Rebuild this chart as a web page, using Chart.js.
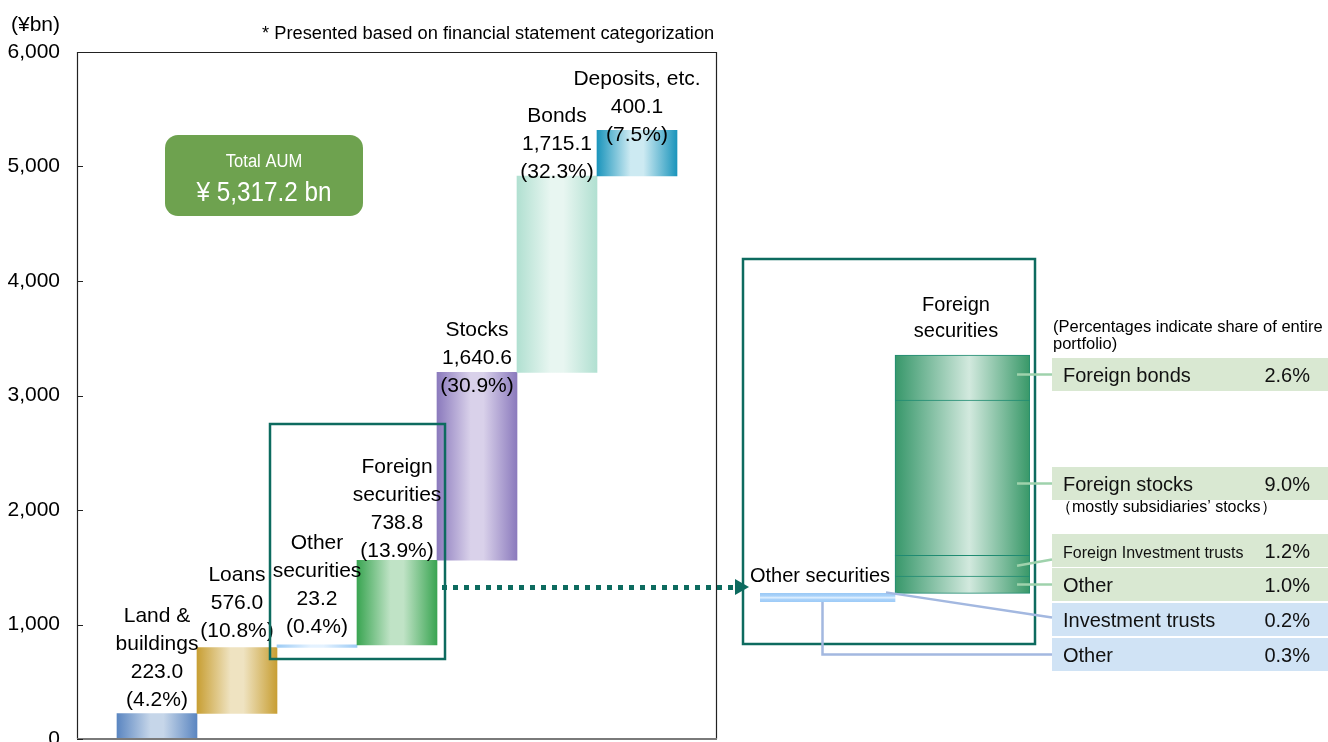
<!DOCTYPE html>
<html>
<head>
<meta charset="utf-8">
<script src="https://cdn.jsdelivr.net/npm/chart.js@4.4.1/dist/chart.umd.min.js"></script>
<style>
  html, body { margin: 0; padding: 0; background: #fff; }
  #wrap { position: relative; width: 1328px; height: 742px; }
  #wrap canvas { position: absolute; left: 0; top: 0; }
  #breakdown { pointer-events: none; }
</style>
</head>
<body>
<div id="wrap">
  <canvas id="aum" width="1328" height="742"></canvas>
  <canvas id="breakdown" width="1328" height="742"></canvas>
</div>
<script>
// asset classes, amount (¥bn) and share of portfolio (%)
var categories = ['Land &\nbuildings', 'Loans', 'Other\nsecurities', 'Foreign\nsecurities', 'Stocks', 'Bonds', 'Deposits, etc.'];
var amounts = [223.0, 576.0, 23.2, 738.8, 1640.6, 1715.1, 400.1];
var shares = [4.2, 10.8, 0.4, 13.9, 30.9, 32.3, 7.5];
var totalAUM = 5317.2;
var yTicks = [0, 1000, 2000, 3000, 4000, 5000, 6000];

// foreign securities split, bottom to top (% of whole portfolio)
var foreignParts = ['Other', 'Foreign Investment trusts', 'Foreign stocks', 'Foreign bonds'];
var foreignShares = [1.0, 1.2, 9.0, 2.6];
// other securities split
var otherParts = ['Investment trusts', 'Other'];
var otherShares = [0.2, 0.3];

var FONT = "'Liberation Sans', Arial, sans-serif";
var TEAL = '#0d6b5f';

// bar colours: edge / centre of the horizontal sheen
var edgeCols = ['#5b86c1', '#c89f34', '#9ccbf5', '#3aa552', '#8b7abd', '#b1e0d1', '#1b95bc'];
var midCols  = ['#c6d6e9', '#efe3c1', '#e4f2ff', '#c0e3c6', '#d9d1ea', '#e8f6f1', '#cdeaf2'];

function fmt(v) {
  return v.toLocaleString('en-US', { minimumFractionDigits: 1, maximumFractionDigits: 1 });
}

function sheen(ctx, x0, x1, edge, mid) {
  var g = ctx.createLinearGradient(x0, 0, x1, 0);
  g.addColorStop(0, edge);
  g.addColorStop(0.42, mid);
  g.addColorStop(0.58, mid);
  g.addColorStop(1, edge);
  return g;
}

// waterfall: every bar starts where the previous one ended
var ranges = [];
var running = 0;
amounts.forEach(function (a) {
  ranges.push([running, running + a]);
  running += a;
});

var mainLabels = [''].concat(categories.map(function (c) { return c.replace('\n', ' '); }), ['']);
var mainData = [null].concat(ranges, [null]);

var mainDecor = {
  id: 'mainDecor',
  afterDatasetsDraw: function (chart, args, opts) {
    var ctx = chart.ctx;
    var meta = chart.getDatasetMeta(0);
    ctx.save();
    ctx.font = '21px ' + FONT;
    ctx.fillStyle = '#000';
    ctx.textAlign = 'center';
    ctx.textBaseline = 'alphabetic';
    categories.forEach(function (name, i) {
      var el = meta.data[i + 1];
      var lines = name.split('\n').concat([fmt(amounts[i]), '(' + shares[i].toFixed(1) + '%)']);
      var base = el.y - opts.lift[i];
      for (var k = lines.length - 1; k >= 0; k--) {
        ctx.fillText(lines[k], el.x, base - (lines.length - 1 - k) * 28);
      }
    });
    ctx.restore();
  },
  afterDraw: function (chart) {
    var ctx = chart.ctx, a = chart.chartArea, ys = chart.scales.y;
    ctx.save();

    // plot frame
    ctx.strokeStyle = '#222';
    ctx.lineWidth = 1.2;
    ctx.beginPath();
    ctx.moveTo(a.left + 0.5, a.bottom);
    ctx.lineTo(a.left + 0.5, a.top + 0.5);
    ctx.lineTo(a.right - 0.5, a.top + 0.5);
    ctx.lineTo(a.right - 0.5, a.bottom);
    ctx.stroke();
    ctx.strokeStyle = '#7a7a7a';
    ctx.lineWidth = 2;
    ctx.beginPath();
    ctx.moveTo(a.left, a.bottom);
    ctx.lineTo(a.right, a.bottom);
    ctx.stroke();

    // short inward tick marks
    ctx.strokeStyle = '#222';
    ctx.lineWidth = 1;
    yTicks.forEach(function (v) {
      var y = Math.round(ys.getPixelForValue(v)) + 0.5;
      ctx.beginPath();
      ctx.moveTo(a.left, y);
      ctx.lineTo(a.left + 6, y);
      ctx.stroke();
    });

    // unit and note
    ctx.fillStyle = '#000';
    ctx.font = '21px ' + FONT;
    ctx.textAlign = 'left';
    ctx.fillText('(¥bn)', 11, 31);
    ctx.font = '18.3px ' + FONT;
    ctx.fillText('* Presented based on financial statement categorization', 262, 39);

    // total box
    var bx = 165, by = 135, bw = 198, bh = 81, r = 13;
    ctx.fillStyle = '#6ea24f';
    ctx.beginPath();
    ctx.moveTo(bx + r, by);
    ctx.arcTo(bx + bw, by, bx + bw, by + bh, r);
    ctx.arcTo(bx + bw, by + bh, bx, by + bh, r);
    ctx.arcTo(bx, by + bh, bx, by, r);
    ctx.arcTo(bx, by, bx + bw, by, r);
    ctx.closePath();
    ctx.fill();
    ctx.fillStyle = '#fff';
    ctx.textAlign = 'center';
    ctx.save();
    ctx.translate(bx + bw / 2, 0);
    ctx.scale(0.92, 1);
    ctx.font = '18px ' + FONT;
    ctx.fillText('Total AUM', 0, 167);
    ctx.restore();
    ctx.save();
    ctx.translate(bx + bw / 2, 0);
    ctx.scale(0.9, 1);
    ctx.font = '27px ' + FONT;
    ctx.fillText('¥ ' + fmt(totalAUM) + ' bn', 0, 201);
    ctx.restore();

    // frame round the securities bars and the dotted pointer
    ctx.strokeStyle = TEAL;
    ctx.lineWidth = 2.5;
    ctx.strokeRect(270, 424, 175, 235);
    ctx.fillStyle = TEAL;
    for (var x = 442; x <= 728; x += 11) {
      ctx.fillRect(x, 585, 5, 5);
    }
    ctx.beginPath();
    ctx.moveTo(735, 579);
    ctx.lineTo(749, 587);
    ctx.lineTo(735, 595);
    ctx.closePath();
    ctx.fill();
    ctx.restore();
  }
};

new Chart(document.getElementById('aum'), {
  type: 'bar',
  data: {
    labels: mainLabels,
    datasets: [{
      data: mainData,
      borderWidth: 0,
      categoryPercentage: 1,
      barPercentage: 1,
      backgroundColor: function (c) {
        var i = c.dataIndex - 1;
        if (i < 0 || i >= categories.length) return 'rgba(0,0,0,0)';
        var chart = c.chart;
        if (!chart.chartArea) return edgeCols[i];
        var xs = chart.scales.x;
        var cx = xs.getPixelForValue(c.dataIndex);
        var half = (xs.getPixelForValue(1) - xs.getPixelForValue(0)) / 2;
        return sheen(chart.ctx, cx - half, cx + half, edgeCols[i], midCols[i]);
      }
    }]
  },
  options: {
    responsive: false,
    animation: false,
    devicePixelRatio: 1,
    layout: { padding: { left: 0, top: 52, right: 611, bottom: 3 }, autoPadding: false },
    plugins: {
      legend: { display: false },
      tooltip: { enabled: false },
      mainDecor: { lift: [7, 11, 12, 3, -20, -2, -11] }
    },
    scales: {
      x: { type: 'category', offset: false, display: false },
      y: {
        min: 0,
        max: 6000,
        afterBuildTicks: function (s) { s.ticks = yTicks.map(function (v) { return { value: v }; }); },
        afterFit: function (s) { s.width = 77; },
        // tick marks stay hidden; their length only sets the label gap
        grid: { display: false, drawTicks: true, tickLength: 17 },
        border: { display: false },
        ticks: {
          padding: 0,
          color: '#000',
          font: { family: FONT, size: 21, lineHeight: 0.2 },
          callback: function (v) { return v.toLocaleString('en-US'); }
        }
      }
    }
  },
  plugins: [mainDecor]
});

// ---- breakdown panel ----
var foreignBase = otherShares.reduce(function (s, v) { return s + v; }, 0);
var breakdownSets = [{
  label: 'Other securities',
  data: [[0, foreignBase], null],
  grouped: false,
  borderWidth: 0,
  categoryPercentage: 1,
  barPercentage: 1,
  backgroundColor: function (c) {
    var chart = c.chart;
    if (!chart.chartArea) return '#a8d0f8';
    var ys = chart.scales.y;
    var g = chart.ctx.createLinearGradient(0, ys.getPixelForValue(foreignBase), 0, ys.getPixelForValue(0));
    g.addColorStop(0, '#9ccaf6');
    g.addColorStop(0.3, '#a9d2fa');
    g.addColorStop(0.5, '#e0f0ff');
    g.addColorStop(0.7, '#a9d2fa');
    g.addColorStop(1, '#9ccaf6');
    return g;
  }
}];
var acc = foreignBase;
foreignShares.forEach(function (v, k) {
  breakdownSets.push({
    label: foreignParts[k],
    data: [null, [acc, acc + v]],
    grouped: false,
    categoryPercentage: 1,
    barPercentage: 1,
    borderSkipped: false,
    borderColor: '#1f8b72',
    borderWidth: { top: 1, left: 1, right: 1, bottom: k === 0 ? 1 : 0 },
    backgroundColor: function (c) {
      var chart = c.chart;
      if (!chart.chartArea) return '#3a9a68';
      var xs = chart.scales.x;
      var cx = xs.getPixelForValue(1);
      var half = (xs.getPixelForValue(1) - xs.getPixelForValue(0)) / 2;
      var g = chart.ctx.createLinearGradient(cx - half, 0, cx + half, 0);
      g.addColorStop(0, '#37976a');
      g.addColorStop(0.55, '#d2e9de');
      g.addColorStop(1, '#389868');
      return g;
    }
  });
  acc += v;
});

var insetDecor = {
  id: 'insetDecor',
  afterDraw: function (chart, args, opts) {
    var ctx = chart.ctx;
    var otherEl = chart.getDatasetMeta(0).data[0];
    var segs = foreignParts.map(function (p, k) { return chart.getDatasetMeta(k + 1).data[1]; });
    ctx.save();

    ctx.strokeStyle = TEAL;
    ctx.lineWidth = 2.5;
    ctx.strokeRect(743, 259, 292, 385);

    ctx.fillStyle = '#000';
    ctx.font = '20px ' + FONT;
    ctx.textAlign = 'center';
    ctx.fillText('Foreign', 956, 311);
    ctx.fillText('securities', 956, 337);
    ctx.fillText('Other securities', 820, 582);

    ctx.textAlign = 'left';
    ctx.font = '16.5px ' + FONT;
    ctx.fillText('(Percentages indicate share of entire', 1053, 332);
    ctx.fillText('portfolio)', 1053, 349);
    ctx.font = '16px ' + FONT;
    ctx.fillText('（mostly subsidiaries’ stocks）', 1056, 512);

    // side table, top to bottom
    var rows = [];
    for (var k = foreignParts.length - 1; k >= 0; k--) {
      rows.push({ name: foreignParts[k], pct: foreignShares[k], fill: '#d9e8d2', seg: segs[k] });
    }
    otherParts.forEach(function (p, k) {
      rows.push({ name: p, pct: otherShares[k], fill: '#d0e3f5', seg: null });
    });

    var rx = 1052;
    rows.forEach(function (row, i) {
      var top = opts.rowTops[i], h = 33, cy = top + h / 2;
      ctx.fillStyle = row.fill;
      ctx.fillRect(rx, top, 1328 - rx, h);
      ctx.fillStyle = '#111';
      ctx.textAlign = 'left';
      ctx.font = (row.name.length > 20 ? 16 : 20) + 'px ' + FONT;
      ctx.fillText(row.name, 1063, cy + 7);
      ctx.font = '20px ' + FONT;
      ctx.textAlign = 'right';
      ctx.fillText(row.pct.toFixed(1) + '%', 1310, cy + 7);

      ctx.lineWidth = 2.5;
      ctx.beginPath();
      if (row.seg) {
        ctx.strokeStyle = '#9fd2ac';
        var sx = row.seg.x + row.seg.width / 2 - 13;
        if (i === 2) {
          ctx.moveTo(sx, (row.seg.y + row.seg.base) / 2);
          ctx.lineTo(rx, cy + 9);
        } else {
          ctx.moveTo(sx, cy);
          ctx.lineTo(rx, cy);
        }
      } else {
        ctx.strokeStyle = '#a3b8e0';
        if (i === 4) {
          ctx.moveTo(otherEl.x + otherEl.width / 2 - 9, otherEl.y - 1);
          ctx.lineTo(rx, cy - 2);
        } else {
          ctx.moveTo(otherEl.x - 5, otherEl.base);
          ctx.lineTo(otherEl.x - 5, cy);
          ctx.lineTo(rx, cy);
        }
      }
      ctx.stroke();
    });
    ctx.restore();
  }
};

new Chart(document.getElementById('breakdown'), {
  type: 'bar',
  data: {
    labels: ['Other securities', 'Foreign securities'],
    datasets: breakdownSets
  },
  options: {
    responsive: false,
    animation: false,
    devicePixelRatio: 1,
    layout: { padding: { left: 760, top: 343, right: 298, bottom: 140 }, autoPadding: false },
    plugins: {
      legend: { display: false },
      tooltip: { enabled: false },
      insetDecor: { rowTops: [358, 467, 534, 568, 603, 638] }
    },
    scales: {
      x: { type: 'category', offset: true, display: false },
      y: { min: 0, max: 15, display: false }
    }
  },
  plugins: [insetDecor]
});
</script>
</body>
</html>
